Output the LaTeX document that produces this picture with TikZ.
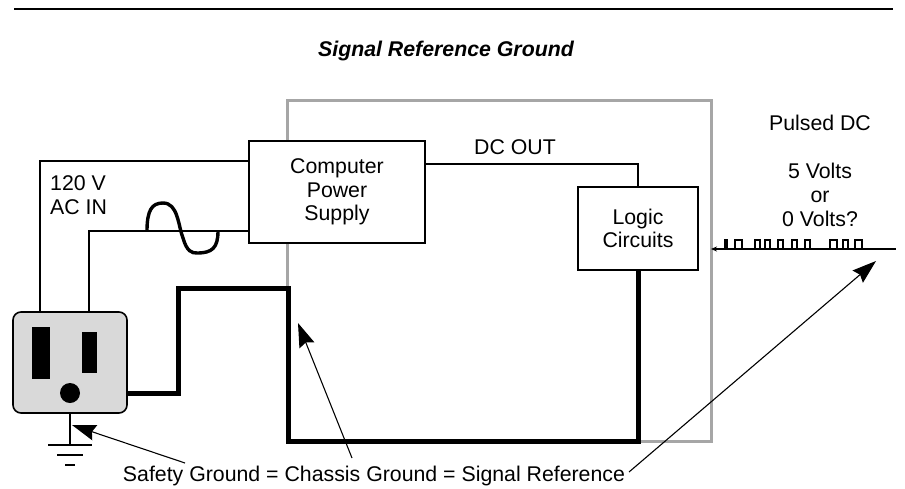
\documentclass[tikz,border=0pt]{standalone}
\usepackage{fontspec}
\setmainfont{Liberation Sans}
\usetikzlibrary{arrows.meta}

\begin{document}
\begin{tikzpicture}[x=1pt, y=-1pt,
    wire/.style={line width=1.9pt},
    ground/.style={line width=5pt},
    pointer/.style={line width=1.1pt, -{Stealth[black, length=24pt, width=16pt, inset=3pt]}},
    shield/.style={draw=black!35, line width=3pt}]
\useasboundingbox (0, 0) rectangle (905, 488);

\begin{scope}[every node/.style={font=\fontsize{21.3}{23.7}\selectfont, align=center, inner sep=0pt}]
    \node (title) at (446, 51) {\bfseries\itshape Signal Reference Ground};
    \node (acin) at (50, 195) [align=left, anchor=west] {120 V\\AC IN};
    \node (dcout) at (515, 147) {DC OUT};
    \node (pulsed) at (820, 123) {Pulsed DC};
    \node (volts) at (820, 195) {5 Volts\\or\\0 Volts?};
    \node (safety) at (374, 476) {Safety Ground = Chassis Ground = Signal Reference};
\end{scope}

% rule at the top
\coordinate (rule1) at (14, 9);
\coordinate (rule2) at (893, 9);
\draw [line width=1.2pt] (rule1) -- (rule2);

% chassis outline
\coordinate (box1) at (287, 100);
\coordinate (box2) at (711, 441);
\draw [shield] (box1) rectangle (box2);

\begin{scope}[every node/.style={draw=black, fill=white, line width=1.2pt, inner sep=0pt, outer sep=0pt,
                                 font=\fontsize{21.3}{23.7}\selectfont, align=center}]
    \node (supply) at (337, 192) [minimum width=176pt, minimum height=102pt] {Computer\\Power\\Supply};
    \node (logic) at (638, 228.5) [minimum width=120pt, minimum height=83pt] {Logic\\Circuits};
    \node (outlet) at (70, 362.5) [minimum width=114pt, minimum height=101pt, rounded corners=8pt,
                                   line width=1.6pt, fill=black!15] {};
\end{scope}

% outlet face
\begin{scope}[every node/.style={fill=black, inner sep=0pt, outer sep=0pt}]
    \node (slot1) at (41, 353) [minimum width=18pt, minimum height=52pt] {};
    \node (slot2) at (89.5, 352.5) [minimum width=15pt, minimum height=41pt] {};
    \node (hole) at (70, 393) [circle, minimum size=20pt] {};
\end{scope}

% mains side
\coordinate (hot) at (40, 161);
\coordinate (neutral) at (89, 231);
\draw [wire] (outlet.north -| hot) |- (hot -| supply.west);
\draw [wire] (outlet.north -| neutral) |- (neutral -| supply.west);
\coordinate (sine1) at (147, 231);
\coordinate (sine2) at (218, 231);
\draw [line width=3.4pt] (sine1) .. controls (147, 210) and (152, 203) .. (163, 203)
    .. controls (178, 203) and (178, 225) .. (183, 238)
    .. controls (187, 252) and (192, 253) .. (197, 253)
    .. controls (212, 253) and (218, 248) .. (sine2);

% dc side
\coordinate (dc) at (425, 164);
\draw [wire] (dc) -| (logic.north);

% signal reference
\coordinate (bend1) at (178, 288);
\coordinate (bend2) at (288, 441);
\draw [ground] (hole -| outlet.east) -| (bend1) -| (bend2) -| (logic.south);

% earth symbol
\coordinate (earth1) at (70, 445);
\coordinate (earth2) at (70, 455);
\coordinate (earth3) at (70, 465);
\draw [wire] (outlet.south -| earth1) -- (earth1);
\draw [wire] ([xshift=-22pt]earth1) -- ([xshift=22pt]earth1);
\draw [wire] ([xshift=-13pt]earth2) -- ([xshift=13pt]earth2);
\draw [line width=2.2pt] ([xshift=-5pt]earth3) -- ([xshift=5pt]earth3);

% pulse train
\coordinate (line1) at (711, 249);
\coordinate (line2) at (896, 249);
\draw [wire, {Stealth[length=6pt, width=5pt]}-] (line1) -- (line2);
\foreach \a/\b in {725/727, 735/742, 755/760, 765/770, 778/783, 792/797, 805/810, 830/837, 843/848, 855/862}
    \draw [line width=1.3pt] (\a, 249) -- (\a, 240) -- (\b, 240) -- (\b, 249);

% pointers
\coordinate (tip1) at (72, 425);
\coordinate (tip2) at (298, 323);
\coordinate (tip3) at (876, 261);
\coordinate (tail1) at (185, 463);
\coordinate (tail2) at (352, 458);
\coordinate (tail3) at (629, 472);
\path [draw, pointer] (tail1) -- (tip1);
\path [draw, pointer] (tail2) -- (tip2);
\path [draw, pointer] (tail3) -- (tip3);
\end{tikzpicture}
\end{document}
